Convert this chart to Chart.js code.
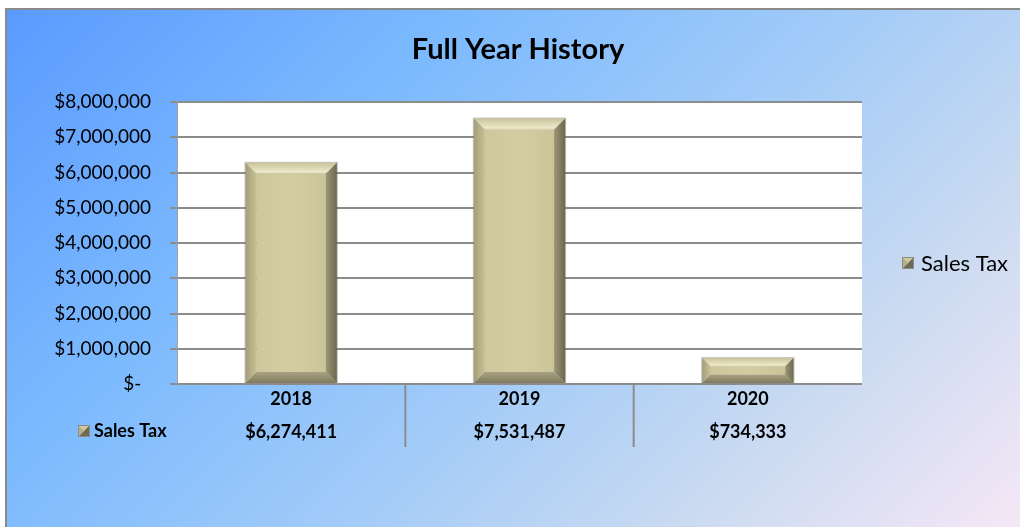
<!DOCTYPE html>
<html>
<head>
<meta charset="utf-8">
<script src="https://cdn.jsdelivr.net/npm/chart.js@4.4.1/dist/chart.umd.min.js"></script>
<style>
html,body{margin:0;padding:0;background:#fff;}
#wrap{position:relative;width:1020px;height:527px;}
</style>
</head>
<body>
<div id="wrap"><canvas id="c" width="1020" height="527"></canvas></div>
<script>
const chartTitle = 'Full Year History';
const seriesName = 'Sales Tax';
const categories = ['2018', '2019', '2020'];
const salesTax = [6274411, 7531487, 734333];
const yTickValues = [0, 1000000, 2000000, 3000000, 4000000, 5000000, 6000000, 7000000, 8000000];

const FONT = 'Lato, "Open Sans", sans-serif';

function money(v) {
  if (v === 0) return '$-  ';
  return '$' + Math.round(v).toLocaleString('en-US');
}

const decorPlugin = {
  id: 'decor',
  beforeDraw(chart) {
    const ctx = chart.ctx, W = chart.width, H = chart.height, ca = chart.chartArea;
    ctx.save();
    ctx.fillStyle = '#ffffff';
    ctx.fillRect(0, 0, W, H);
    const g = ctx.createLinearGradient(5, 8, 780, 783);
    g.addColorStop(0, '#5a9afe');
    g.addColorStop(0.30, '#7cbafe');
    g.addColorStop(0.55, '#a2cbf8');
    g.addColorStop(0.75, '#c6d9f1');
    g.addColorStop(1, '#f7e8f6');
    ctx.fillStyle = g;
    ctx.fillRect(5, 8, W - 5, H - 8);
    ctx.strokeStyle = '#8a8a8a';
    ctx.lineWidth = 2;
    ctx.beginPath();
    ctx.moveTo(6, H); ctx.lineTo(6, 9); ctx.lineTo(W, 9);
    ctx.stroke();
    ctx.fillStyle = '#ffffff';
    ctx.fillRect(ca.left, ca.top, ca.right - ca.left, ca.bottom - ca.top);
    ctx.restore();
  },
  afterDatasetsDraw(chart) {
    const ctx = chart.ctx;
    const meta = chart.getDatasetMeta(0);
    meta.data.forEach((bar) => {
      const p = bar.getProps(['x', 'y', 'base', 'width'], true);
      const l = p.x - p.width / 2, r = p.x + p.width / 2, t = p.y, b = p.base;
      const h = b - t;
      const bv = Math.min(11, h * 0.33);
      ctx.save();
      ctx.fillStyle = 'rgba(90,90,70,0.35)';
      ctx.fillRect(l - 1, t - 1, p.width + 2, h + 1);
      const fg = ctx.createLinearGradient(l, 0, r, 0);
      fg.addColorStop(0, '#cdc599');
      fg.addColorStop(0.5, '#d5cda2');
      fg.addColorStop(1, '#c9c196');
      ctx.fillStyle = fg;
      ctx.fillRect(l + bv, t + bv, p.width - 2 * bv, h - 2 * bv);
      const tg = ctx.createLinearGradient(0, t, 0, t + bv);
      tg.addColorStop(0, '#c9c29b');
      tg.addColorStop(0.8, '#ece7c6');
      tg.addColorStop(1, '#e2dcb5');
      ctx.fillStyle = tg;
      ctx.beginPath();
      ctx.moveTo(l, t); ctx.lineTo(r, t); ctx.lineTo(r - bv, t + bv); ctx.lineTo(l + bv, t + bv); ctx.closePath();
      ctx.fill();
      const lg = ctx.createLinearGradient(l, 0, l + bv, 0);
      lg.addColorStop(0, '#a49d7a');
      lg.addColorStop(1, '#c8c195');
      ctx.fillStyle = lg;
      ctx.beginPath();
      ctx.moveTo(l, t); ctx.lineTo(l + bv, t + bv); ctx.lineTo(l + bv, b - bv); ctx.lineTo(l, b); ctx.closePath();
      ctx.fill();
      const rg = ctx.createLinearGradient(r - bv, 0, r, 0);
      rg.addColorStop(0, '#9c9676');
      rg.addColorStop(1, '#6c6850');
      ctx.fillStyle = rg;
      ctx.beginPath();
      ctx.moveTo(r, t); ctx.lineTo(r, b); ctx.lineTo(r - bv, b - bv); ctx.lineTo(r - bv, t + bv); ctx.closePath();
      ctx.fill();
      const bg = ctx.createLinearGradient(0, b - bv, 0, b);
      bg.addColorStop(0, '#a8a282');
      bg.addColorStop(1, '#7f7a5e');
      ctx.fillStyle = bg;
      ctx.beginPath();
      ctx.moveTo(l, b); ctx.lineTo(l + bv, b - bv); ctx.lineTo(r - bv, b - bv); ctx.lineTo(r, b); ctx.closePath();
      ctx.fill();
      ctx.restore();
    });
  },
  afterDraw(chart) {
    const ctx = chart.ctx, ca = chart.chartArea;
    const xs = chart.scales.x;
    ctx.save();
    ctx.fillStyle = '#000';
    ctx.font = 'bold 29px ' + FONT;
    ctx.textAlign = 'center';
    ctx.textBaseline = 'middle';
    ctx.fillText(chartTitle, 518, 50);
    ctx.strokeStyle = '#8c8c8c';
    ctx.lineWidth = 2;
    for (let i = 1; i < categories.length; i++) {
      const xm = (xs.getPixelForValue(i - 1) + xs.getPixelForValue(i)) / 2;
      ctx.beginPath();
      ctx.moveTo(xm, ca.bottom); ctx.lineTo(xm, ca.bottom + 63);
      ctx.stroke();
    }
    ctx.font = 'bold 18px ' + FONT;
    ctx.fillStyle = '#000';
    ctx.textAlign = 'center';
    salesTax.forEach((v, i) => {
      ctx.fillText(money(v), xs.getPixelForValue(i), ca.bottom + 48);
    });
    drawKey(ctx, 78, 425);
    ctx.textAlign = 'left';
    ctx.fillText(seriesName, 94, ca.bottom + 47);
    drawKey(ctx, 902, 257);
    ctx.font = '22px ' + FONT;
    ctx.fillText(seriesName, 921, 264);
    ctx.restore();
  }
};

function drawKey(ctx, x, y) {
  const s = 12;
  ctx.save();
  ctx.fillStyle = '#6f6a52';
  ctx.fillRect(x, y, s, s);
  ctx.fillStyle = '#d2caa0';
  ctx.beginPath();
  ctx.moveTo(x, y); ctx.lineTo(x + s, y); ctx.lineTo(x, y + s); ctx.closePath();
  ctx.fill();
  ctx.fillStyle = '#b5ae88';
  ctx.beginPath();
  ctx.moveTo(x, y); ctx.lineTo(x + s * 0.5, y + s * 0.5); ctx.lineTo(x, y + s); ctx.closePath();
  ctx.fill();
  ctx.strokeStyle = '#8a8a8a';
  ctx.lineWidth = 1;
  ctx.strokeRect(x + 0.5, y + 0.5, s - 1, s - 1);
  ctx.restore();
}

new Chart(document.getElementById('c'), {
  type: 'bar',
  data: {
    labels: categories,
    datasets: [{
      label: seriesName,
      data: salesTax,
      backgroundColor: 'rgba(0,0,0,0)',
      borderWidth: 0,
      categoryPercentage: 1.0,
      barPercentage: 0.4
    }]
  },
  options: {
    responsive: false,
    animation: false,
    devicePixelRatio: 1,
    layout: { padding: { top: 102, right: 158, left: 0, bottom: 0 } },
    plugins: {
      legend: { display: false },
      title: { display: false },
      tooltip: { enabled: false }
    },
    scales: {
      x: {
        afterFit(axis) { axis.height = 143; },
        grid: { display: false, drawTicks: false },
        border: { display: false },
        ticks: {
          color: '#000',
          font: { family: FONT, size: 18, weight: 'bold' },
          padding: 4
        }
      },
      y: {
        min: 0,
        max: 8000000,
        afterFit(axis) { axis.width = 177; },
        afterBuildTicks(axis) { axis.ticks = yTickValues.map(v => ({ value: v })); },
        grid: { color: '#8c8c8c', lineWidth: 2, drawTicks: true, tickLength: 7 },
        border: { display: true, color: '#a0a0a0', width: 1 },
        ticks: {
          color: '#000',
          font: { family: FONT, size: 19 },
          padding: 19,
          callback: (v) => money(v)
        }
      }
    }
  },
  plugins: [decorPlugin]
});
</script>
</body>
</html>
